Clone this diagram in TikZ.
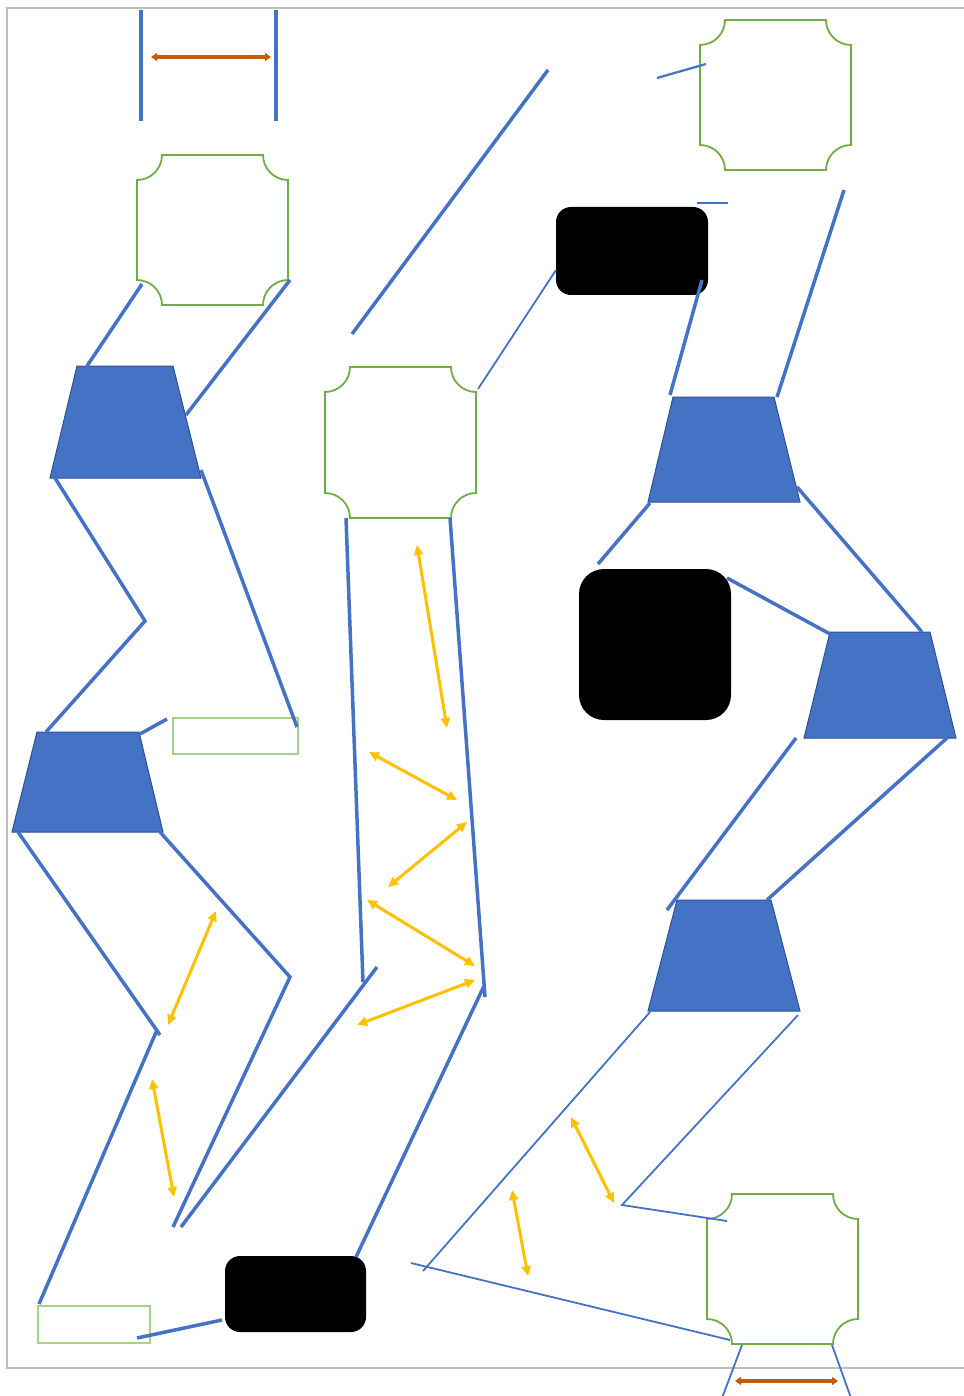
\documentclass[tikz,border=0pt]{standalone}
\usetikzlibrary{arrows.meta}
\definecolor{cblue}{HTML}{4472C4}
\definecolor{cblueedge}{HTML}{2F528F}
\definecolor{cgreen}{HTML}{70AD47}
\definecolor{clgreen}{HTML}{A9D18E}
\definecolor{cyellow}{HTML}{FFC000}
\definecolor{corange}{HTML}{C55A11}
\definecolor{cframe}{HTML}{BFBFBF}
\tikzset{
  pipe/.style={draw=cblue, line width=3.5pt},
  thinpipe/.style={draw=cblue, line width=1.8pt},
  plaque/.style={draw=cgreen, line width=1.8pt},
  greenbox/.style={draw=clgreen, line width=2.5pt, inner sep=0pt, fill=none},
  blackbox/.style={fill=black, draw=none, inner sep=0pt, rounded corners=15pt},
  trap/.style={fill=cblue, draw=cblueedge, line width=1pt},
  yarrow/.style={draw=cyellow, line width=3pt, {Triangle[length=10pt,width=9pt]}-{Triangle[length=10pt,width=9pt]}},
  oarrow/.style={draw=corange, line width=3.8pt, {Triangle[length=6pt,width=8pt]}-{Triangle[length=6pt,width=8pt]}},
}
\newcommand\myplaque[4]{%
 \draw[plaque] ({#1+25},#2) -- ({#3-25},#2)
   .. controls ({#3-25},{#2+13.8}) and ({#3-13.8},{#2+25}) .. (#3,{#2+25})
   -- (#3,{#4-25})
   .. controls ({#3-13.8},{#4-25}) and ({#3-25},{#4-13.8}) .. ({#3-25},#4)
   -- ({#1+25},#4)
   .. controls ({#1+25},{#4-13.8}) and ({#1+13.8},{#4-25}) .. (#1,{#4-25})
   -- (#1,{#2+25})
   .. controls ({#1+13.8},{#2+25}) and ({#1+25},{#2+13.8}) .. cycle;}
\begin{document}
\begin{tikzpicture}[x=1pt,y=-1pt]
\useasboundingbox (0,0) rectangle (963,1396);
% frame
\draw[cframe, line width=1.5pt] (965,8) -- (7,8) -- (7,1368) -- (965,1368);

% plaques
\myplaque{137}{155}{288}{305}
\myplaque{700}{20}{851}{170}
\myplaque{325}{367}{476}{518}
\myplaque{707}{1194}{858}{1344}

% black boxes
\node[blackbox, minimum width=152pt, minimum height=88pt] (b1) at (632,251) {};
\node[blackbox, minimum width=152pt, minimum height=151pt, rounded corners=25pt] (b2) at (655,644.5) {};
\node[blackbox, minimum width=141pt, minimum height=76pt] (b3) at (295.5,1294) {};

% green rectangles
\node[greenbox, minimum width=125pt, minimum height=36pt] (g1) at (235.5,736) {};
\node[greenbox, minimum width=112pt, minimum height=37pt] (g2) at (94,1324.5) {};

% trapezoids
\filldraw[trap] (77,366) -- (173,366) -- (201,478) -- (50,478) -- cycle;
\filldraw[trap] (37,732) -- (139,732) -- (163,832) -- (12,832) -- cycle;
\filldraw[trap] (673,397) -- (774,397) -- (800,502) -- (648,502) -- cycle;
\filldraw[trap] (830,632) -- (930,632) -- (956,738) -- (804,738) -- cycle;
\filldraw[trap] (677,900) -- (771,900) -- (800,1011) -- (648,1011) -- cycle;

% thick pipes
\draw[pipe] (141,10) -- (141,121);
\draw[pipe] (276,10) -- (276,121);
\draw[pipe] (548,70) -- (352,334);
\draw[pipe] (702,280) -- (670,395);
\draw[pipe] (844,190) -- (777,397);
\draw[pipe] (142,284) -- (87,366);
\draw[pipe] (290,280) -- (186,415);
\draw[pipe] (55,478) -- (145,621) -- (46,732);
\draw[pipe] (201,470) -- (297,727);
\draw[pipe] (140,734) -- (167,719);
\draw[pipe] (18,832) -- (160,1035);
\draw[pipe] (157,1030) -- (39,1304);
\draw[pipe] (160,832) -- (290,977) -- (173,1227);
\draw[pipe] (377,967) -- (181,1227);
\draw[pipe] (346,518) -- (363,982);
\draw[pipe] (450,518) -- (485,997);
\draw[pipe] (484,986) -- (356,1257);
\draw[pipe] (137,1338) -- (222,1320);
\draw[pipe] (650,503) -- (598,564);
\draw[pipe] (797,487) -- (922,632);
\draw[pipe] (727,578) -- (830,634);
\draw[pipe] (796,738) -- (667,910);
\draw[pipe] (947,738) -- (767,900);

% thin pipes
\draw[thinpipe, line width=2.2pt] (657,78) -- (706,64);
\draw[thinpipe] (697,203) -- (728,203);
\draw[thinpipe] (556,270) -- (478,389);
\draw[thinpipe] (650,1012) -- (423,1271);
\draw[thinpipe] (798,1015) -- (622,1205) -- (727,1221);
\draw[thinpipe] (411,1263) -- (730,1340);
\draw[thinpipe] (742,1345) -- (722,1398);
\draw[thinpipe] (832,1345) -- (851,1398);

% yellow arrows
\draw[yarrow] (417,545) -- (447,728);
\draw[yarrow] (369,752) -- (457,800);
\draw[yarrow] (467,822) -- (388,887);
\draw[yarrow] (367,900) -- (475,966);
\draw[yarrow] (475,980) -- (357,1025);
\draw[yarrow] (216,911) -- (168,1025);
\draw[yarrow] (152,1079) -- (174,1197);
\draw[yarrow] (571,1117) -- (614,1203);
\draw[yarrow] (512,1190) -- (528,1276);

% orange arrows
\draw[oarrow] (151,57) -- (271,57);
\draw[oarrow] (735,1381) -- (838,1381);
\end{tikzpicture}
\end{document}
